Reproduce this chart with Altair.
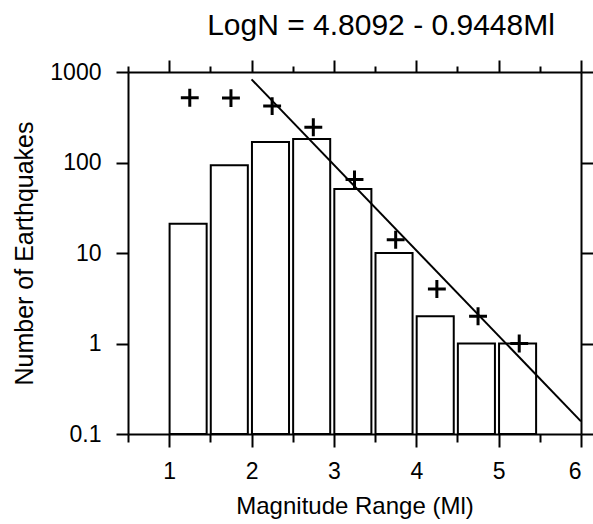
import altair as alt
import pandas as pd

# ---- data ----
bin_start = [1.0, 1.5, 2.0, 2.5, 3.0, 3.5, 4.0, 4.5, 5.0]
bin_count = [21, 93, 168, 182, 51, 10, 2, 1, 1]

cum_mag = [1.25, 1.75, 2.25, 2.75, 3.25, 3.75, 4.25, 4.75, 5.25]
cum_count = [520, 515, 420, 245, 65, 14, 4, 2, 1]

line_mag = [2.0, 6.0]
line_count = [830, 0.138]

title_text = "LogN = 4.8092 - 0.9448Ml"
x_major = [1, 2, 3, 4, 5, 6]
x_minor = [0.5, 1.5, 2.5, 3.5, 4.5, 5.5]
y_ticks = [0.1, 1, 10, 100, 1000]

bars = pd.DataFrame({"lo": bin_start, "n": bin_count})
cums = pd.DataFrame({"m": cum_mag, "n": cum_count})
fit = pd.DataFrame({"m": line_mag, "n": line_count})
ttl = pd.DataFrame({"t": [title_text]})

FONT = "Liberation Sans"
xscale = alt.Scale(domain=[0.5, 6], nice=False, zero=False)
yscale = alt.Scale(type="log", domain=[0.1, 1000], nice=False)

W, H = 453, 362

bar_layer = alt.Chart(bars).mark_rect(
    fill="white", stroke="black", strokeWidth=2
).transform_calculate(
    x1="datum.lo + 0.005", x2="datum.lo + 0.455"
).encode(
    x=alt.X("x1:Q", scale=xscale, axis=alt.Axis(
        orient="bottom", values=x_major, tickSize=13, labelPadding=13,
        labelFontSize=23, title="Magnitude Range (Ml)", titleFontSize=24,
        titlePadding=11, format="d", domain=True)),
    x2="x2:Q",
    y=alt.Y("n:Q", scale=yscale, axis=alt.Axis(
        orient="left", values=y_ticks, tickSize=12, labelPadding=15,
        labelFontSize=23, format="~g", title="Number of Earthquakes",
        titleFontSize=25, titlePadding=12, domain=True)),
    y2=alt.datum(0.1),
)

cross_layer = alt.Chart(cums).mark_point(
    shape="M-1,0H1M0,-1V1", filled=False, stroke="black",
    strokeWidth=3, size=320, opacity=1
).encode(
    x=alt.X("m:Q", scale=xscale, axis=alt.Axis(
        orient="bottom", values=x_minor, tickSize=8, labels=False,
        domain=False, title=None)),
    y=alt.Y("n:Q", scale=yscale, axis=alt.Axis(
        orient="right", values=y_ticks, tickSize=12, labels=False,
        domain=True, title=None)),
)

line_layer = alt.Chart(fit).mark_line(
    color="black", strokeWidth=2, clip=True
).encode(
    x=alt.X("m:Q", scale=xscale, axis=alt.Axis(
        orient="top", values=x_major, tickSize=12, labels=False,
        domain=True, title=None)),
    y=alt.Y("n:Q", scale=yscale, axis=None),
)

minor_top = alt.Chart(cums).mark_point(opacity=0).encode(
    x=alt.X("m:Q", scale=xscale, axis=alt.Axis(
        orient="top", values=x_minor, tickSize=6, labels=False,
        domain=False, title=None)),
    y=alt.Y("n:Q", scale=yscale, axis=None),
)

title_layer = alt.Chart(ttl).mark_text(
    font=FONT, fontSize=30, align="center", baseline="alphabetic",
    color="black"
).encode(
    x=alt.value(253), y=alt.value(-37), text="t:N"
)

chart = alt.layer(
    bar_layer, line_layer, cross_layer, minor_top, title_layer
).resolve_axis(
    x="independent", y="independent"
).properties(
    width=W, height=H,
    autosize=alt.AutoSizeParams(type="none"),
    padding={"left": 128, "top": 72, "right": 12, "bottom": 90},
    background="white",
).configure_view(
    stroke=None
).configure_axis(
    domainColor="black", domainWidth=2, tickColor="black", tickWidth=2,
    labelColor="black", titleColor="black", labelFont=FONT, titleFont=FONT,
    titleFontWeight="normal", grid=False
)

chart.save("out.html", embed_options={"renderer": "svg", "actions": False})
